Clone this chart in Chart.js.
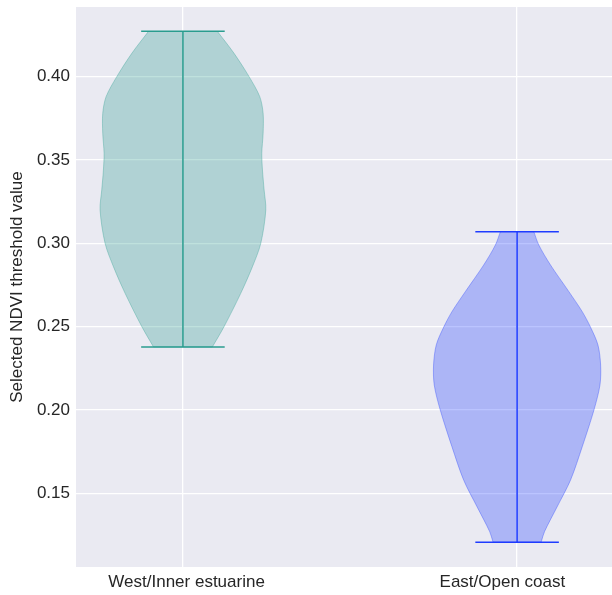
<!DOCTYPE html>
<html>
<head>
<meta charset="utf-8">
<script src="https://cdn.jsdelivr.net/npm/chart.js@4/dist/chart.umd.min.js"></script>
<style>
    html, body { margin: 0; padding: 0; background: #ffffff; }
    #wrap { width: 612px; height: 595px; }
</style>
</head>
<body>
<div id="wrap"><canvas id="violinChart" width="612" height="595"></canvas></div>
<script>
// Categories and positions on the x axis
const CATEGORIES = ['West/Inner estuarine', 'East/Open coast'];
const POSITIONS = [1, 2];
// where the category names sit (they are not exactly under the violins)
const LABEL_POSITIONS = [1.011, 1.956];

// Whisker extremes (min / max of each group)
const MINS = [0.2378, 0.1207];
const MAXES = [0.4272, 0.3070];

// Violin outlines: y values and half-widths (in x units)
const WEST_Y = [0.4272, 0.414, 0.400, 0.388, 0.378, 0.366, 0.354, 0.344, 0.332, 0.320, 0.300, 0.286, 0.270, 0.250, 0.2378];
const WEST_W = [0.103, 0.153, 0.198, 0.230, 0.240, 0.240, 0.236, 0.238, 0.243, 0.248, 0.233, 0.208, 0.173, 0.123, 0.088];
const EAST_Y = [0.3070, 0.299, 0.287, 0.271, 0.259, 0.2496, 0.239, 0.227, 0.215, 0.200, 0.178, 0.158, 0.142, 0.127, 0.1207];
const EAST_W = [0.050, 0.065, 0.100, 0.155, 0.195, 0.220, 0.242, 0.250, 0.248, 0.230, 0.195, 0.160, 0.120, 0.082, 0.072];

// Tick labels
const Y_TICKS = [0.15, 0.20, 0.25, 0.30, 0.35, 0.40];

// Styles
const LINE_COLORS = ['#2a9d8f', '#1f3cff'];
const FILL_COLORS = ['rgba(42,157,143,0.3)', 'rgba(31,60,255,0.3)'];
const EDGE_COLORS = ['rgba(42,157,143,0.35)', 'rgba(31,60,255,0.35)'];
const CAP_HALF = 0.125;
const FONT = "'Liberation Sans', Arial, sans-serif";

// Build a closed outline: down the left side, back up the right side.
// Corner points are doubled so the spline stays flat along the caps.
function violinOutline(pos, ys, ws) {
    const n = ys.length;
    const pts = [];
    for (let i = 0; i < n; i++) {
        pts.push({x: pos - ws[i], y: ys[i]});
        if (i === 0 || i === n - 1) pts.push({x: pos - ws[i], y: ys[i]});
    }
    for (let i = n - 1; i >= 0; i--) {
        pts.push({x: pos + ws[i], y: ys[i]});
        if (i === 0 || i === n - 1) pts.push({x: pos + ws[i], y: ys[i]});
    }
    return pts;
}

function buildDatasets() {
    const outlines = [
        violinOutline(POSITIONS[0], WEST_Y, WEST_W),
        violinOutline(POSITIONS[1], EAST_Y, EAST_W)
    ];
    const sets = [];
    outlines.forEach((pts, i) => {
        sets.push({
            data: pts,
            showLine: true,
            fill: 'shape',
            backgroundColor: FILL_COLORS[i],
            borderColor: EDGE_COLORS[i],
            borderWidth: 1,
            pointRadius: 0,
            tension: 0.3
        });
    });
    POSITIONS.forEach((pos, i) => {
        const lineStyle = {showLine: true, fill: false, borderColor: LINE_COLORS[i], borderWidth: 1.5, pointRadius: 0, tension: 0};
        // vertical min-max bar
        sets.push({...lineStyle, data: [{x: pos, y: MINS[i]}, {x: pos, y: MAXES[i]}]});
        // caps
        sets.push({...lineStyle, data: [{x: pos - CAP_HALF, y: MAXES[i]}, {x: pos + CAP_HALF, y: MAXES[i]}]});
        sets.push({...lineStyle, data: [{x: pos - CAP_HALF, y: MINS[i]}, {x: pos + CAP_HALF, y: MINS[i]}]});
    });
    return sets;
}

// Seaborn-like grey panel behind the plot
const panelBackground = {
    id: 'panelBackground',
    beforeDraw(chart) {
        const {ctx, chartArea} = chart;
        ctx.save();
        ctx.fillStyle = '#eaeaf2';
        ctx.fillRect(chartArea.left, chartArea.top, chartArea.right - chartArea.left, chartArea.bottom - chartArea.top);
        ctx.restore();
    }
};

function noScalePadding(scale) {
    scale.paddingTop = 0;
    scale.paddingBottom = 0;
    scale.paddingLeft = 0;
    scale.paddingRight = 0;
}

function initChart() {
    const ctx = document.getElementById('violinChart').getContext('2d');
    new Chart(ctx, {
        type: 'scatter',
        data: { datasets: buildDatasets() },
        options: {
            responsive: false,
            animation: false,
            layout: { padding: { top: 7, right: 0, bottom: 0, left: 0 } },
            plugins: {
                legend: { display: false },
                tooltip: { enabled: false }
            },
            scales: {
                // grid-only x axis, vertical lines at the violin centres
                x: {
                    type: 'linear',
                    position: 'bottom',
                    min: 0.68,
                    max: 2.284,
                    border: { display: false },
                    grid: { color: '#ffffff', lineWidth: 1.3, drawTicks: false },
                    ticks: { display: false },
                    afterBuildTicks: (scale) => { scale.ticks = POSITIONS.map(v => ({value: v})); },
                    afterFit: (scale) => { scale.height = 0; noScalePadding(scale); }
                },
                // label-only x axis
                xLabels: {
                    type: 'linear',
                    axis: 'x',
                    position: 'bottom',
                    min: 0.68,
                    max: 2.284,
                    border: { display: false },
                    grid: { display: false, drawTicks: false },
                    ticks: {
                        padding: 5,
                        color: '#262626',
                        font: { family: FONT, size: 17 },
                        callback: (v) => CATEGORIES[LABEL_POSITIONS.indexOf(v)] || ''
                    },
                    afterBuildTicks: (scale) => { scale.ticks = LABEL_POSITIONS.map(v => ({value: v})); },
                    afterFit: (scale) => { scale.height = 28; noScalePadding(scale); }
                },
                y: {
                    type: 'linear',
                    min: 0.1058,
                    max: 0.4418,
                    border: { display: false },
                    grid: { color: '#ffffff', lineWidth: 1.3, drawTicks: false },
                    ticks: {
                        padding: 6,
                        color: '#262626',
                        font: { family: FONT, size: 17 },
                        callback: (v) => v.toFixed(2)
                    },
                    afterBuildTicks: (scale) => { scale.ticks = Y_TICKS.map(v => ({value: v})); },
                    afterFit: (scale) => { scale.width = 76; noScalePadding(scale); },
                    title: {
                        display: true,
                        text: 'Selected NDVI threshold value',
                        color: '#262626',
                        font: { family: FONT, size: 17 },
                        padding: { top: 7, bottom: 0 }
                    }
                }
            }
        },
        plugins: [panelBackground]
    });
}

window.onload = () => {
    initChart();
};
</script>
</body>
</html>
